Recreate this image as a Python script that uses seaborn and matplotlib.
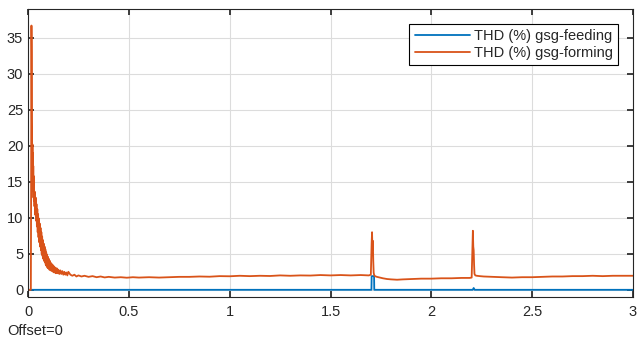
import matplotlib
matplotlib.use("Agg")
import matplotlib.pyplot as plt
import seaborn as sns
import pandas as pd

# THD of the grid-forming converter (time in s, THD in %)
t_forming = [
    0.000, 0.014, 0.015, 0.016, 0.017, 0.018, 0.019, 0.020, 0.021, 0.022,
    0.023, 0.024, 0.025, 0.026, 0.027, 0.028, 0.029, 0.030, 0.032, 0.034,
    0.036, 0.038, 0.040, 0.042, 0.044, 0.046, 0.048, 0.050, 0.052, 0.054,
    0.056, 0.058, 0.060, 0.062, 0.064, 0.066, 0.068, 0.070, 0.072, 0.074,
    0.076, 0.078, 0.080, 0.082, 0.084, 0.086, 0.088, 0.090, 0.092, 0.094,
    0.096, 0.098, 0.100, 0.103, 0.106, 0.109, 0.112, 0.115, 0.118, 0.121,
    0.124, 0.127, 0.130, 0.134, 0.138, 0.142, 0.146, 0.150, 0.155, 0.160,
    0.165, 0.170, 0.175, 0.180, 0.185, 0.190, 0.195, 0.200, 0.210, 0.220,
    0.230, 0.240, 0.250, 0.265, 0.280, 0.300, 0.320, 0.340, 0.360, 0.380,
    0.400, 0.430, 0.460, 0.490, 0.520, 0.550, 0.600, 0.650, 0.700, 0.750,
    0.800, 0.850, 0.900, 0.950, 1.000, 1.050, 1.100, 1.150, 1.200, 1.250,
    1.300, 1.350, 1.400, 1.450, 1.500, 1.550, 1.600, 1.650, 1.690, 1.700,
    1.702, 1.704, 1.706, 1.708, 1.710, 1.712, 1.714, 1.716, 1.720, 1.730,
    1.745, 1.760, 1.780, 1.800, 1.830, 1.860, 1.900, 1.950, 2.000, 2.050,
    2.100, 2.150, 2.190, 2.200, 2.202, 2.204, 2.206, 2.208, 2.210, 2.212,
    2.214, 2.218, 2.225, 2.240, 2.260, 2.300, 2.350, 2.400, 2.450, 2.500,
    2.550, 2.600, 2.650, 2.700, 2.750, 2.800, 2.850, 2.900, 2.950, 3.000]
thd_forming = [
    0.0, 0.0, 10.0, 28.0, 36.7, 33.0, 24.0, 20.3, 18.0, 20.2,
    14.5, 19.0, 13.8, 17.2, 12.8, 15.8, 12.4, 14.0, 11.6, 13.6,
    10.4, 12.8, 9.6, 11.9, 8.8, 11.2, 8.0, 10.5, 7.3, 9.9,
    6.6, 9.2, 6.0, 8.6, 5.5, 8.0, 5.0, 7.4, 4.7, 6.9,
    4.3, 6.4, 4.0, 6.0, 3.8, 5.6, 3.5, 5.2, 3.3, 4.9,
    3.1, 4.6, 3.0, 4.3, 2.8, 4.0, 2.7, 3.7, 2.6, 3.5,
    2.5, 3.3, 2.4, 3.1, 2.3, 3.0, 2.3, 2.8, 2.2, 2.7,
    2.2, 2.6, 2.1, 2.5, 2.1, 2.4, 2.0, 2.5, 2.1, 1.95,
    2.1, 1.85, 2.0, 1.85, 1.95, 1.8, 1.9, 1.75, 1.85, 1.72,
    1.8, 1.7, 1.75, 1.68, 1.75, 1.7, 1.75, 1.7, 1.75, 1.8,
    1.8, 1.85, 1.82, 1.9, 1.88, 1.95, 1.9, 1.95, 1.92, 2.0,
    1.95, 2.0, 1.98, 2.05, 2.0, 2.05, 2.0, 2.05, 2.0, 2.1,
    4.5, 6.5, 8.0, 5.5, 6.8, 4.0, 2.4, 2.1, 1.9, 1.8,
    1.7, 1.6, 1.5, 1.45, 1.4, 1.45, 1.5, 1.55, 1.55, 1.6,
    1.6, 1.65, 1.65, 1.7, 4.0, 6.5, 8.2, 6.0, 5.5, 3.5,
    2.2, 2.0, 1.95, 1.9, 1.85, 1.8, 1.75, 1.7, 1.75, 1.75,
    1.8, 1.85, 1.85, 1.9, 1.9, 1.95, 1.9, 1.95, 1.95, 1.95]

# THD of the grid-following converter
t_feeding = [0.000, 1.703, 1.704, 1.716, 1.717, 2.205, 2.210, 2.215, 3.000]
thd_feeding = [0.0, 0.0, 1.9, 1.9, 0.0, 0.0, 0.25, 0.0, 0.0]

label_feeding = "THD (%) gsg-feeding"
label_forming = "THD (%) gsg-forming"
x_ticks = [0, 0.5, 1, 1.5, 2, 2.5, 3]
x_tick_labels = ["0", "0.5", "1", "1.5", "2", "2.5", "3"]
y_ticks = [0, 5, 10, 15, 20, 25, 30, 35]

df = pd.concat([
    pd.DataFrame({"t": t_feeding, "thd": thd_feeding, "signal": label_feeding}),
    pd.DataFrame({"t": t_forming, "thd": thd_forming, "signal": label_forming}),
], ignore_index=True)

sns.set_theme(style="white")
plt.rcParams["font.family"] = ["Liberation Sans", "DejaVu Sans"]

fig = plt.figure(figsize=(6.37, 3.41), dpi=100)
ax = fig.add_axes([0.044, 0.129, 0.9497, 0.8446])

sns.lineplot(data=df, x="t", y="thd", hue="signal", sort=False, estimator=None,
             palette={label_feeding: "#0072BD", label_forming: "#D95319"},
             linewidth=1.3, ax=ax)

ax.set_xlim(0, 3)
ax.set_ylim(-1, 39)
ax.set_xticks(x_ticks)
ax.set_xticklabels(x_tick_labels)
ax.set_yticks(y_ticks)
ax.set_xlabel("")
ax.set_ylabel("")
ax.grid(True, color="#dcdcdc", linewidth=0.8)
ax.tick_params(direction="in", length=4, labelsize=10.5, colors="#262626",
               top=True, right=True, bottom=True, left=True)
ax.tick_params(axis="x", pad=6)
for s in ax.spines.values():
    s.set_color("#262626")
    s.set_linewidth(0.8)

leg = ax.legend(loc="upper right", fontsize=10.5, frameon=True, fancybox=False,
                edgecolor="black", framealpha=1, handlelength=3.8,
                borderaxespad=1.0, labelspacing=0.25, borderpad=0.35,
                handletextpad=0.3)
leg.get_frame().set_linewidth(0.8)

fig.text(0.012, 0.018, "Offset=0", fontsize=10.5, color="#262626")

fig.savefig("out.png", dpi=100)
